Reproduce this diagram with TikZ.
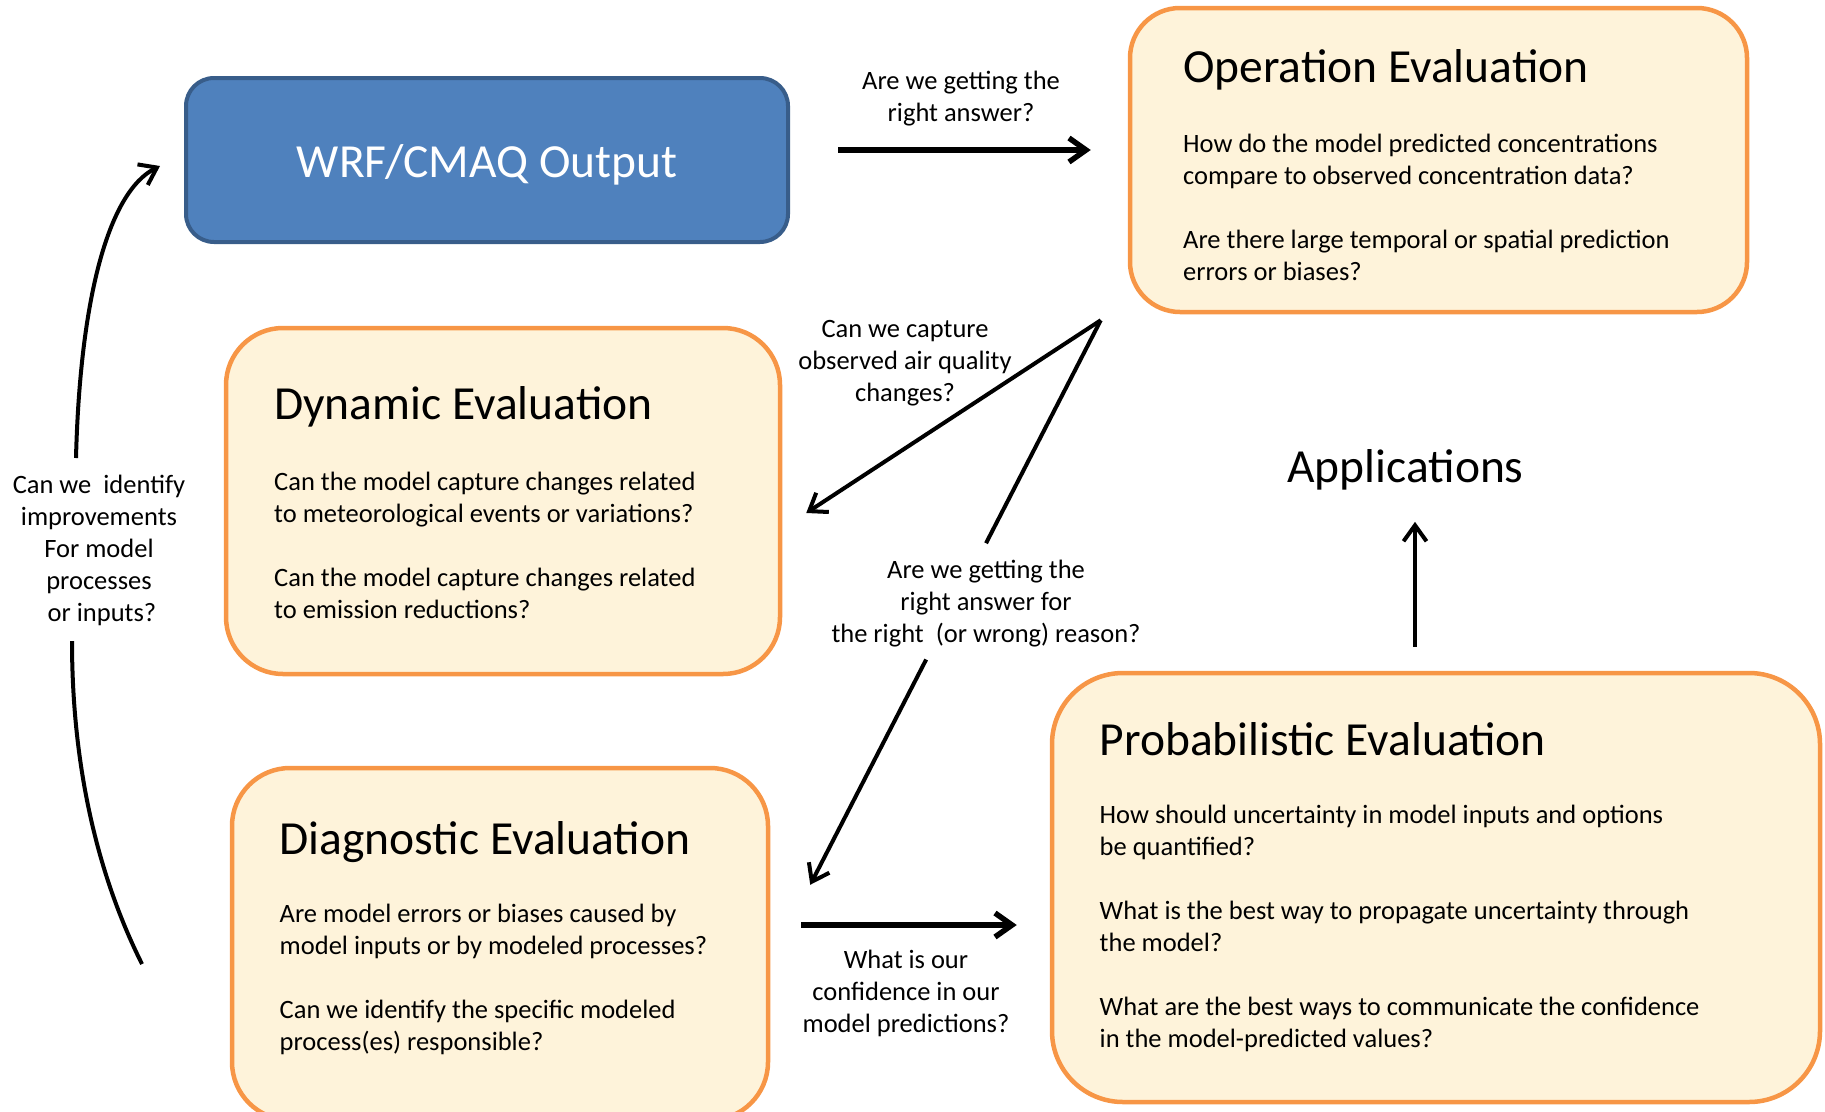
\documentclass[tikz,border=0pt]{standalone}
\usepackage{fontspec}
\setmainfont{Carlito}
\usetikzlibrary{arrows.meta,calc}
\definecolor{orbord}{HTML}{F79646}
\definecolor{orfill}{HTML}{FEF3DA}
\definecolor{bluefill}{HTML}{4F81BD}
\definecolor{bluebord}{HTML}{385D8A}
\tikzset{
  evalbox/.style={draw=orbord, fill=orfill, line width=4.5pt, rectangle, inner sep=0pt},
  wrfbox/.style={draw=bluebord, fill=bluefill, line width=4pt, rectangle, inner sep=0pt,
    text=white, font=\fontsize{47.5}{56}\selectfont, text height=34pt, text depth=0pt},
  titletext/.style={anchor=base west, inner sep=0pt, font=\fontsize{47.5}{56}\selectfont},
  bodytext/.style={anchor=base west, inner sep=0pt, font=\fontsize{26.5}{32}\selectfont},
  labeltext/.style={anchor=base, inner sep=0pt, font=\fontsize{26.5}{32}\selectfont},
  thickarrow/.style={line width=5.5pt, -{Straight Barb[length=17pt,width=24pt]}},
  thinarrow/.style={line width=4pt, -{Straight Barb[length=16pt,width=23pt]}},
  thinline/.style={line width=4pt, line cap=butt},
}
\begin{document}
\begin{tikzpicture}[x=1pt,y=-1pt]
\useasboundingbox (0,0) rectangle (1825,1111);
\clip (0,0) rectangle (1825,1111);

% boxes
\node[wrfbox, rounded corners=28pt, minimum width=602pt, minimum height=164pt] (wrf) at (487,160) {WRF/CMAQ Output};
\node[evalbox, rounded corners=50pt, minimum width=617pt, minimum height=304pt] (op) at (1438.5,160) {};
\node[evalbox, rounded corners=57pt, minimum width=554pt, minimum height=346pt] (dyn) at (503,501) {};
\node[evalbox, rounded corners=58pt, minimum width=536pt, minimum height=352pt] (diag) at (500,944) {};
\node[evalbox, rounded corners=71pt, minimum width=768pt, minimum height=429pt] (prob) at (1436,887.5) {};

% titles
\node[titletext] (optitle) at (1183,82) {Operation Evaluation};
\node[titletext] (dyntitle) at (274,419) {Dynamic Evaluation};
\node[titletext] (diagtitle) at (279.5,854) {Diagnostic Evaluation};
\node[titletext] (probtitle) at (1099.5,755) {Probabilistic Evaluation};
\node[anchor=base, inner sep=0pt, font=\fontsize{47.5}{56}\selectfont] (app) at (1405.5,482) {Applications};

% body texts
\node[bodytext] (opbody) at (1183,152) {\begin{tabular}[t]{@{}l@{}}
How do the model predicted concentrations\\
compare to observed concentration data?\\
\\
Are there large temporal or spatial prediction\\
errors or biases?
\end{tabular}};
\node[bodytext] (dynbody) at (274,490) {\begin{tabular}[t]{@{}l@{}}
Can the model capture changes related\\
to meteorological events or variations?\\
\\
Can the model capture changes related\\
to emission reductions?
\end{tabular}};
\node[bodytext] (diagbody) at (279.5,922) {\begin{tabular}[t]{@{}l@{}}
Are model errors or biases caused by\\
model inputs or by modeled processes?\\
\\
Can we identify the specific modeled\\
process(es) responsible?
\end{tabular}};
\node[bodytext] (probbody) at (1099.5,823) {\begin{tabular}[t]{@{}l@{}}
How should uncertainty in model inputs and options\\
be quantified?\\
\\
What is the best way to propagate uncertainty through\\
the model?\\
\\
What are the best ways to communicate the confidence\\
in the model-predicted values?
\end{tabular}};

% connector labels
\node[labeltext] (lblright) at (961,89) {\begin{tabular}[t]{@{}c@{}}Are we getting the\\right answer?\end{tabular}};
\node[labeltext] (lblcapture) at (905,337) {\begin{tabular}[t]{@{}c@{}}Can we capture\\observed air quality\\changes?\end{tabular}};
\node[labeltext] (lblreason) at (986,578) {\begin{tabular}[t]{@{}c@{}}Are we getting the\\right answer for\\the right~ (or wrong) reason?\end{tabular}};
\node[labeltext] (lblconf) at (906,968) {\begin{tabular}[t]{@{}c@{}}What is our\\confidence in our\\model predictions?\end{tabular}};
\node[labeltext] (lblleft) at (99,493) {\begin{tabular}[t]{@{}c@{}}Can we~ identify\\improvements\\For model\\processes\\~or inputs?\end{tabular}};

% connectors
\draw[thickarrow] ([xshift=48pt,yshift=10pt]wrf.east) -- ([xshift=-37pt,yshift=10pt]op.west);
\coordinate (apex) at ([xshift=-27pt,yshift=-6pt]op.south west);
\coordinate (dyntip) at ([xshift=24pt,yshift=-12pt]dyn.east);
\coordinate (diagtip) at ([xshift=40pt,yshift=-119pt]diag.north east);
\draw[thinarrow, line join=round] (apex) -- (dyntip);
\draw[thinline] (apex) -- ($(apex)!0.395!(diagtip)$);
\draw[thinarrow] ($(apex)!0.601!(diagtip)$) -- (diagtip);
\draw[thickarrow] ([xshift=31pt,yshift=19pt]diag.east) -- ([xshift=-33pt,yshift=-37.5pt]prob.west);
\draw[thinarrow, shorten >=56pt] ([xshift=-21pt,yshift=24pt]prob.north) -- ([xshift=-21pt,yshift=24pt]prob.north |- app.south);

% feedback curve
\coordinate (cstart) at (142,964);
\coordinate (gaplow) at (72,641);
\coordinate (gaphigh) at (76,458);
\draw[thinline] (cstart) .. controls (95,870) and (72,760) .. (gaplow);
\draw[thinarrow] (gaphigh) .. controls (80,300) and (108,192) .. ([xshift=-24pt,yshift=-6pt]wrf.west);
\end{tikzpicture}
\end{document}
